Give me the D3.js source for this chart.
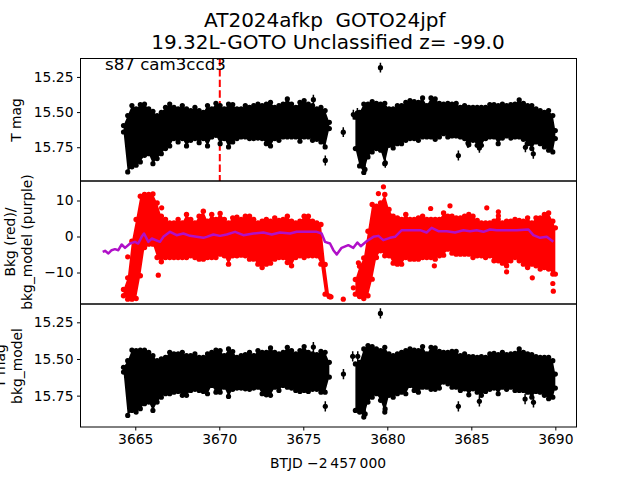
<!DOCTYPE html>
<html><head><meta charset="utf-8">
<script src="https://cdn.jsdelivr.net/npm/d3@7"></script>
<style>
html,body{margin:0;padding:0;background:#fff}
svg{display:block}
text{font-family:"DejaVu Sans",sans-serif;fill:#000;white-space:pre}
</style></head><body>
<div id="chart"></div>
<script>
// The thousands of individual points cannot be read from the picture, so the dense
// clouds are held as per-bin upper/lower envelopes estimated by eye from the reference,
// plus the isolated points and the purple background-model curve.
const titleLines = ["AT2024afkp  GOTO24jpf ", "19.32L-GOTO Unclassified z= -99.0"];
const annotation = "s87 cam3ccd3";
const xLabel = "BTJD \u22122\u2009457\u2009000";
const xTicks = [3665, 3670, 3675, 3680, 3685, 3690];
const magTicks = [15.25, 15.5, 15.75];
const bkgTicks = [10, 0, -10];
const markerTime = 3670;

const binsA = [3664.3,3664.55,3664.8,3665.05,3665.3,3665.55,3665.8,3666.05,3666.3,3666.55,3666.8,3667.05,3667.3,3667.55,3667.8,3668.05,3668.3,3668.55,3668.8,3669.05,3669.3,3669.55,3669.8,3670.05,3670.3,3670.55,3670.8,3671.05,3671.3,3671.55,3671.8,3672.05,3672.3,3672.55,3672.8,3673.05,3673.3,3673.55,3673.8,3674.05,3674.3,3674.55,3674.8,3675.05,3675.3,3675.55,3675.8,3676.05,3676.3,3676.55];
const binsB = [3678.1,3678.35,3678.6,3678.85,3679.1,3679.35,3679.6,3679.85,3680.1,3680.35,3680.6,3680.85,3681.1,3681.35,3681.6,3681.85,3682.1,3682.35,3682.6,3682.85,3683.1,3683.35,3683.6,3683.85,3684.1,3684.35,3684.6,3684.85,3685.1,3685.35,3685.6,3685.85,3686.1,3686.35,3686.6,3686.85,3687.1,3687.35,3687.6,3687.85,3688.1,3688.35,3688.6,3688.85,3689.1,3689.35,3689.6,3689.85,3690.0];

const topHighA = [15.577,15.506,15.435,15.459,15.428,15.424,15.459,15.476,15.506,15.483,15.447,15.424,15.447,15.459,15.435,15.459,15.471,15.447,15.471,15.483,15.435,15.459,15.419,15.435,15.459,15.424,15.428,15.459,15.459,15.435,15.447,15.435,15.424,15.435,15.424,15.412,15.447,15.435,15.424,15.388,15.424,15.447,15.412,15.400,15.424,15.435,15.459,15.447,15.471,15.554];
const topLowA = [15.660,15.944,15.908,15.896,15.873,15.826,15.814,15.885,15.849,15.814,15.778,15.759,15.707,15.731,15.707,15.759,15.719,15.707,15.736,15.707,15.759,15.695,15.684,15.743,15.707,15.766,15.731,15.707,15.695,15.695,15.707,15.707,15.703,15.707,15.743,15.759,15.707,15.719,15.695,15.695,15.695,15.695,15.726,15.695,15.695,15.719,15.712,15.731,15.766,15.636];
const topHighB = [15.518,15.483,15.424,15.424,15.407,15.419,15.424,15.419,15.459,15.459,15.435,15.435,15.412,15.400,15.407,15.412,15.381,15.435,15.381,15.388,15.419,15.424,15.419,15.424,15.419,15.447,15.435,15.447,15.447,15.447,15.447,15.447,15.428,15.428,15.435,15.424,15.435,15.428,15.424,15.395,15.419,15.435,15.435,15.459,15.471,15.483,15.471,15.506,15.613];
const topLowB = [15.778,15.901,15.948,15.837,15.802,15.778,15.790,15.885,15.755,15.773,15.743,15.743,15.719,15.707,15.707,15.719,15.695,15.695,15.695,15.712,15.695,15.672,15.695,15.688,15.688,15.695,15.707,15.750,15.719,15.755,15.755,15.707,15.695,15.695,15.743,15.703,15.688,15.703,15.695,15.695,15.712,15.743,15.778,15.731,15.743,15.766,15.790,15.802,15.707];

const midHighA = [-13.98,-10.74,-0.56,5.46,11.94,12.41,12.41,12.59,10.09,6.39,5.46,4.54,4.54,5.46,4.54,6.85,5.46,4.54,6.39,7.78,5.0,6.85,5.46,7.13,5.46,4.54,5.93,6.11,5.46,6.39,6.39,5.46,4.54,5.0,5.46,5.0,5.93,5.19,5.46,6.39,5.0,4.54,5.0,6.39,6.39,5.0,4.54,4.07,-7.04,-15.83];
const midLowA = [-17.22,-18.15,-18.15,-17.96,-11.67,-3.8,-2.87,-2.87,-6.58,-7.78,-6.58,-6.58,-6.58,-6.58,-6.58,-6.58,-6.11,-6.58,-7.04,-7.04,-6.58,-6.58,-6.58,-5.65,-6.11,-8.43,-6.11,-6.11,-5.93,-6.11,-7.04,-7.04,-8.43,-9.35,-8.43,-8.15,-7.04,-6.58,-6.58,-7.96,-8.89,-6.58,-6.11,-6.58,-6.11,-6.11,-6.11,-8.43,-16.76,-17.41];
const midHighB = [-11.2,-7.5,-5.19,2.22,9.63,9.17,10.09,12.41,8.24,6.39,5.93,5.46,6.85,5.46,5.46,5.93,6.39,5.46,5.46,5.46,5.46,7.31,6.39,6.39,5.93,5.93,6.39,6.85,6.39,5.19,4.54,4.54,4.54,5.0,5.46,4.54,5.0,5.0,5.46,5.19,5.0,5.93,4.54,5.93,5.93,6.85,7.31,5.0,3.15];
const midLowB = [-16.76,-17.41,-17.96,-17.22,-12.59,-6.58,-4.72,-6.11,-6.11,-8.15,-8.43,-8.43,-6.58,-7.04,-7.04,-7.04,-6.58,-6.58,-6.58,-7.04,-6.11,-5.93,-4.26,-5.37,-5.65,-5.65,-5.65,-5.65,-6.58,-6.11,-6.11,-6.58,-6.11,-7.5,-7.5,-8.15,-8.89,-7.5,-6.58,-7.5,-8.43,-9.35,-8.43,-8.89,-9.81,-9.35,-9.81,-11.2,-11.2];

const botHighA = [15.539,15.494,15.421,15.425,15.421,15.421,15.437,15.460,15.494,15.482,15.471,15.437,15.448,15.448,15.437,15.460,15.460,15.448,15.471,15.471,15.448,15.437,15.421,15.425,15.460,15.414,15.432,15.471,15.460,15.453,15.437,15.460,15.425,15.437,15.437,15.407,15.437,15.448,15.437,15.403,15.425,15.448,15.425,15.398,15.437,15.448,15.453,15.430,15.437,15.505];
const botLowA = [15.607,15.903,15.869,15.880,15.857,15.823,15.812,15.869,15.812,15.778,15.755,15.755,15.744,15.739,15.766,15.766,15.732,15.725,15.732,15.739,15.755,15.698,15.744,15.744,15.710,15.773,15.725,15.716,15.716,15.721,15.725,15.716,15.710,15.755,15.762,15.766,15.710,15.732,15.698,15.710,15.716,15.732,15.739,15.732,15.739,15.725,15.725,15.744,15.744,15.641];
const botHighB = [15.516,15.505,15.414,15.391,15.398,15.414,15.425,15.403,15.448,15.460,15.448,15.437,15.425,15.414,15.421,15.425,15.398,15.448,15.403,15.407,15.430,15.437,15.437,15.430,15.430,15.460,15.448,15.466,15.466,15.471,15.466,15.471,15.448,15.444,15.453,15.437,15.453,15.448,15.444,15.414,15.437,15.448,15.453,15.466,15.471,15.471,15.471,15.494,15.585];
const botLowB = [15.869,15.880,15.914,15.812,15.778,15.755,15.800,15.880,15.766,15.778,15.755,15.744,15.755,15.698,15.732,15.744,15.710,15.710,15.725,15.725,15.716,15.675,15.687,15.710,15.710,15.732,15.721,15.762,15.721,15.744,15.766,15.739,15.725,15.716,15.755,15.710,15.725,15.710,15.732,15.732,15.732,15.744,15.778,15.739,15.744,15.766,15.789,15.778,15.716];

const topOutT = [3679.59,3677.38,3676.31,3675.6,3684.23,3684.8,3688.22,3688.69,3679.88,3678.67,3677.98,3678.22,3685.48];
const topOutV = [15.184,15.643,15.844,15.412,15.809,15.72,15.75,15.797,15.861,15.908,15.518,15.506,15.755];
const botOutT = [3675.6,3676.31,3679.59,3677.39,3684.23,3685.48,3688.2,3688.7,3679.87,3678.68,3677.94,3678.24];
const botOutV = [15.419,15.823,15.189,15.603,15.823,15.789,15.773,15.796,15.841,15.875,15.482,15.482];
const midOutT = [3664.55,3666.37,3666.57,3676.59,3676.65,3677.38,3682.58,3683.73,3685.92,3686.61,3686.61,3688.63,3687.1,3682.8,3679.47,3679.77,3689.85,3689.88,3678.28,3677.98];
const midOutV = [-5.65,-10.74,7.96,-16.76,-16.76,-17.41,7.78,8.52,7.96,6.85,5.74,-11.48,-9.8,-8.15,11.94,13.8,-13.06,-15.19,-7.3,-14.26];

const modelT = [3663.06,3663.2,3663.4,3663.59,3663.79,3663.99,3664.19,3664.39,3664.69,3664.98,3665.18,3665.38,3665.52,3665.78,3665.98,3666.47,3666.67,3667.07,3667.46,3667.86,3668.26,3668.65,3669.05,3669.25,3669.65,3670.04,3670.44,3670.94,3671.43,3672.03,3672.62,3673.12,3673.61,3674.21,3674.61,3675.2,3675.8,3676.09,3676.29,3676.59,3676.79,3676.99,3677.28,3677.68,3677.98,3678.22,3678.42,3678.77,3679.17,3679.47,3679.76,3680.16,3680.46,3680.86,3681.35,3681.95,3682.34,3682.64,3683.04,3683.53,3684.03,3684.53,3684.92,3685.32,3685.72,3686.11,3686.51,3687.11,3687.7,3688.4,3688.69,3689.09,3689.49,3689.88];
const modelV = [-4.26,-3.98,-4.72,-3.8,-3.52,-3.8,-2.22,-3.15,-1.95,-1.48,-1.95,-0.09,0.83,-1.48,-0.56,-1.48,-0.09,1.3,0.37,0.83,0.18,-0.09,-0.37,-0.09,0.55,0.18,0.55,1.3,0.37,0.83,1.11,0.55,1.11,0.83,1.3,1.3,1.3,0.83,-1.48,-1.95,-3.8,-5.0,-3.15,-2.41,-3.15,-1.67,-2.69,-1.3,-0.09,0.18,-1.02,-0.37,-0.09,1.76,1.76,1.76,1.11,2.41,1.48,1.48,1.11,1.76,1.48,1.76,1.3,1.94,1.76,1.76,1.76,1.94,0.37,-0.37,-0.09,-1.48];

const W = 640, H = 480;
const left = 80.5, right = 576.5;
const svg = d3.select("#chart").append("svg").attr("width", W).attr("height", H);
const x = d3.scaleLinear().domain([3661.74, 3691.26]).range([left, right]);

const panels = [
  {id:"top", y0:58.5, y1:181, dom:[15.119,15.99], ticks:magTicks, fmt:d3.format(".2f")},
  {id:"mid", y0:181, y1:304, dom:[15.42,-18.75], ticks:bkgTicks, fmt:d=>d3.format("d")(d).replace("-","\u2212")},
  {id:"bot", y0:304, y1:427, dom:[15.125,15.964], ticks:magTicks, fmt:d3.format(".2f")}
];
panels.forEach(p => {
  p.y = d3.scaleLinear().domain(p.dom).range([p.y0, p.y1]);
  const g = svg.append("g");
  svg.append("clipPath").attr("id","clip-"+p.id).append("rect")
    .attr("x",left).attr("y",p.y0).attr("width",right-left).attr("height",p.y1-p.y0);
  p.plot = g.append("g").attr("clip-path",`url(#clip-${p.id})`);
  p.axisG = svg.append("g");
});

function band(p, bins, hi, lo, color, r) {
  const d = bins.map((t,i)=>({t, hi:hi[i], lo:lo[i]}));
  const area = d3.area().x(e=>x(e.t)).y0(e=>p.y(e.hi)+r).y1(e=>p.y(e.lo)-r);
  p.plot.append("path").datum(d).attr("fill",color).attr("d",area);
  const g = p.plot.append("g").attr("fill",color);
  g.selectAll("circle.h").data(d).join("circle").attr("class","h")
    .attr("cx",e=>x(e.t)).attr("cy",e=>p.y(e.hi)+r).attr("r",r);
  g.selectAll("circle.l").data(d).join("circle").attr("class","l")
    .attr("cx",e=>x(e.t)).attr("cy",e=>p.y(e.lo)-r).attr("r",r);
}
function errPoints(p, ts, vs, halfLen) {
  const d = ts.map((t,i)=>({t, v:vs[i]}));
  p.plot.append("g").attr("stroke","#000").attr("stroke-width",1.5)
    .selectAll("line").data(d).join("line")
    .attr("x1",e=>x(e.t)).attr("x2",e=>x(e.t))
    .attr("y1",e=>p.y(e.v-halfLen)).attr("y2",e=>p.y(e.v+halfLen));
  p.plot.append("g").selectAll("circle").data(d).join("circle")
    .attr("cx",e=>x(e.t)).attr("cy",e=>p.y(e.v)).attr("r",2.6).attr("fill","#000");
}

const [pTop, pMid, pBot] = panels;

// top panel
pTop.plot.append("line").attr("x1",x(markerTime)+0.5).attr("x2",x(markerTime)+0.5)
  .attr("y1",pTop.y0).attr("y2",pTop.y1)
  .attr("stroke","#f00").attr("stroke-width",2).attr("stroke-dasharray","7.4,3.2");
band(pTop, binsA, topHighA, topLowA, "#000", 2.6);
band(pTop, binsB, topHighB, topLowB, "#000", 2.6);
errPoints(pTop, topOutT, topOutV, 0.035);

// middle panel
band(pMid, binsA, midHighA, midLowA, "#f00", 2.7);
band(pMid, binsB, midHighB, midLowB, "#f00", 2.7);
pMid.plot.append("g").selectAll("circle").data(midOutT.map((t,i)=>({t,v:midOutV[i]}))).join("circle")
  .attr("cx",e=>x(e.t)).attr("cy",e=>pMid.y(e.v)).attr("r",2.6).attr("fill","#f00");
pMid.plot.append("path").datum(modelT.map((t,i)=>({t,v:modelV[i]})))
  .attr("fill","none").attr("stroke","#b010c8").attr("stroke-width",2.5).attr("stroke-linejoin","round")
  .attr("d", d3.line().x(e=>x(e.t)).y(e=>pMid.y(e.v)));

// bottom panel
band(pBot, binsA, botHighA, botLowA, "#000", 2.6);
band(pBot, binsB, botHighB, botLowB, "#000", 2.6);
errPoints(pBot, botOutT, botOutV, 0.035);

// axes and frames
panels.forEach(p => {
  const ax = d3.axisLeft(p.y).tickValues(p.ticks).tickFormat(p.fmt).tickSize(3.5).tickPadding(3.5);
  const g = p.axisG.attr("transform",`translate(${left},0)`).call(ax);
  g.select(".domain").remove();
  g.selectAll("text").attr("font-size",13.89).attr("font-family",'"DejaVu Sans",sans-serif').attr("fill","#000");
  g.selectAll("line").attr("stroke","#000").attr("stroke-width",1);
  svg.append("rect").attr("x",left).attr("y",p.y0).attr("width",right-left).attr("height",p.y1-p.y0)
    .attr("fill","none").attr("stroke","#000").attr("stroke-width",1);
});
const xAxis = d3.axisBottom(x).tickValues(xTicks).tickFormat(d3.format("d")).tickSize(3.5).tickPadding(3.5);
const xg = svg.append("g").attr("transform",`translate(0,427)`).call(xAxis);
xg.select(".domain").remove();
xg.selectAll("text").attr("font-size",13.89).attr("font-family",'"DejaVu Sans",sans-serif').attr("fill","#000");
xg.selectAll("line").attr("stroke","#000").attr("stroke-width",1);

// text
svg.append("text").attr("x",328).attr("y",468).attr("text-anchor","middle").attr("font-size",13.89).text(xLabel);
svg.append("text").attr("x",105).attr("y",70).attr("font-size",16.67).text(annotation);
svg.selectAll("text.t").data(titleLines).join("text").attr("class","t")
  .attr("x",328).attr("y",(d,i)=>27+i*21.5).attr("text-anchor","middle").attr("font-size",20).text(d=>d);
function yLabel(txt, cx, cy) {
  svg.append("text").attr("transform",`translate(${cx},${cy}) rotate(-90)`)
    .attr("text-anchor","middle").attr("font-size",13.89).text(txt);
}
yLabel("T mag", 21, 120);
yLabel("Bkg (red)/", 15, 242);
yLabel("bkg_model (purple)", 32, 242);
yLabel("T mag", 5, 366);
yLabel("bkg_model", 22, 366);
</script>
</body></html>
